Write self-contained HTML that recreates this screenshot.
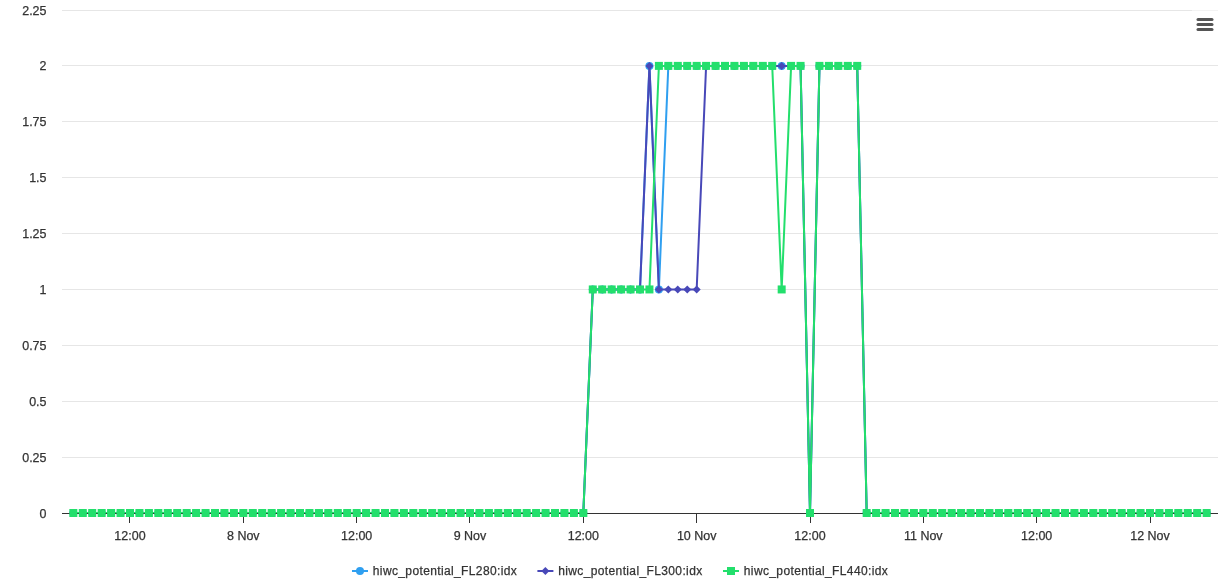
<!DOCTYPE html><html><head><meta charset="utf-8"><style>html,body{margin:0;padding:0;background:#fff;width:1230px;height:586px;overflow:hidden}svg{display:block;will-change:transform}text{font-family:"Liberation Sans",sans-serif;font-size:12px;fill:#333333;stroke:#333333;stroke-width:0.25px}</style></head><body>
<svg width="1230" height="586" viewBox="0 0 1230 586">
<path d="M 62 10.5 H 1218" stroke="#e6e6e6" stroke-width="1" fill="none"/>
<path d="M 62 65.5 H 1218" stroke="#e6e6e6" stroke-width="1" fill="none"/>
<path d="M 62 121.5 H 1218" stroke="#e6e6e6" stroke-width="1" fill="none"/>
<path d="M 62 177.5 H 1218" stroke="#e6e6e6" stroke-width="1" fill="none"/>
<path d="M 62 233.5 H 1218" stroke="#e6e6e6" stroke-width="1" fill="none"/>
<path d="M 62 289.5 H 1218" stroke="#e6e6e6" stroke-width="1" fill="none"/>
<path d="M 62 345.5 H 1218" stroke="#e6e6e6" stroke-width="1" fill="none"/>
<path d="M 62 401.5 H 1218" stroke="#e6e6e6" stroke-width="1" fill="none"/>
<path d="M 62 457.5 H 1218" stroke="#e6e6e6" stroke-width="1" fill="none"/>
<text x="46.5" y="15.0" text-anchor="end" textLength="24.28" lengthAdjust="spacingAndGlyphs">2.25</text>
<text x="46.5" y="70.0" text-anchor="end" textLength="6.94" lengthAdjust="spacingAndGlyphs">2</text>
<text x="46.5" y="126.0" text-anchor="end" textLength="24.28" lengthAdjust="spacingAndGlyphs">1.75</text>
<text x="46.5" y="182.0" text-anchor="end" textLength="17.34" lengthAdjust="spacingAndGlyphs">1.5</text>
<text x="46.5" y="238.0" text-anchor="end" textLength="24.28" lengthAdjust="spacingAndGlyphs">1.25</text>
<text x="46.5" y="294.0" text-anchor="end" textLength="6.94" lengthAdjust="spacingAndGlyphs">1</text>
<text x="46.5" y="350.0" text-anchor="end" textLength="24.28" lengthAdjust="spacingAndGlyphs">0.75</text>
<text x="46.5" y="406.0" text-anchor="end" textLength="17.34" lengthAdjust="spacingAndGlyphs">0.5</text>
<text x="46.5" y="462.0" text-anchor="end" textLength="24.28" lengthAdjust="spacingAndGlyphs">0.25</text>
<text x="46.5" y="518.0" text-anchor="end" textLength="6.94" lengthAdjust="spacingAndGlyphs">0</text>
<path d="M 129.5 513 V 523" stroke="#333333" stroke-width="1"/>
<text x="130.0" y="540" text-anchor="middle" textLength="31.22" lengthAdjust="spacingAndGlyphs">12:00</text>
<path d="M 243.5 513 V 523" stroke="#333333" stroke-width="1"/>
<text x="243.3" y="540" text-anchor="middle" textLength="32.60" lengthAdjust="spacingAndGlyphs">8 Nov</text>
<path d="M 356.5 513 V 523" stroke="#333333" stroke-width="1"/>
<text x="356.7" y="540" text-anchor="middle" textLength="31.22" lengthAdjust="spacingAndGlyphs">12:00</text>
<path d="M 469.5 513 V 523" stroke="#333333" stroke-width="1"/>
<text x="470.0" y="540" text-anchor="middle" textLength="32.60" lengthAdjust="spacingAndGlyphs">9 Nov</text>
<path d="M 583.5 513 V 523" stroke="#333333" stroke-width="1"/>
<text x="583.3" y="540" text-anchor="middle" textLength="31.22" lengthAdjust="spacingAndGlyphs">12:00</text>
<path d="M 696.5 513 V 523" stroke="#333333" stroke-width="1"/>
<text x="696.7" y="540" text-anchor="middle" textLength="39.54" lengthAdjust="spacingAndGlyphs">10 Nov</text>
<path d="M 810.5 513 V 523" stroke="#333333" stroke-width="1"/>
<text x="810.0" y="540" text-anchor="middle" textLength="31.22" lengthAdjust="spacingAndGlyphs">12:00</text>
<path d="M 923.5 513 V 523" stroke="#333333" stroke-width="1"/>
<text x="923.3" y="540" text-anchor="middle" textLength="38.61" lengthAdjust="spacingAndGlyphs">11 Nov</text>
<path d="M 1036.5 513 V 523" stroke="#333333" stroke-width="1"/>
<text x="1036.7" y="540" text-anchor="middle" textLength="31.22" lengthAdjust="spacingAndGlyphs">12:00</text>
<path d="M 1150.5 513 V 523" stroke="#333333" stroke-width="1"/>
<text x="1150.0" y="540" text-anchor="middle" textLength="39.54" lengthAdjust="spacingAndGlyphs">12 Nov</text>
<path d="M 73.33 513.00 L 82.78 513.00 L 92.22 513.00 L 101.67 513.00 L 111.11 513.00 L 120.56 513.00 L 130.00 513.00 L 139.44 513.00 L 148.89 513.00 L 158.33 513.00 L 167.78 513.00 L 177.22 513.00 L 186.67 513.00 L 196.11 513.00 L 205.56 513.00 L 215.00 513.00 L 224.44 513.00 L 233.89 513.00 L 243.33 513.00 L 252.78 513.00 L 262.22 513.00 L 271.67 513.00 L 281.11 513.00 L 290.56 513.00 L 300.00 513.00 L 309.44 513.00 L 318.89 513.00 L 328.33 513.00 L 337.78 513.00 L 347.22 513.00 L 356.67 513.00 L 366.11 513.00 L 375.56 513.00 L 385.00 513.00 L 394.44 513.00 L 403.89 513.00 L 413.33 513.00 L 422.78 513.00 L 432.22 513.00 L 441.67 513.00 L 451.11 513.00 L 460.56 513.00 L 470.00 513.00 L 479.44 513.00 L 488.89 513.00 L 498.33 513.00 L 507.78 513.00 L 517.22 513.00 L 526.67 513.00 L 536.11 513.00 L 545.56 513.00 L 555.00 513.00 L 564.44 513.00 L 573.89 513.00 L 583.33 513.00 L 592.78 289.44 L 602.22 289.44 L 611.67 289.44 L 621.11 289.44 L 630.56 289.44 L 640.00 289.44 L 649.44 65.89 L 658.89 289.44 L 668.33 65.89 L 677.78 65.89 L 687.22 65.89 L 696.67 65.89 L 706.11 65.89 L 715.56 65.89 L 725.00 65.89 L 734.44 65.89 L 743.89 65.89 L 753.33 65.89 L 762.78 65.89 L 772.22 65.89 L 781.67 65.89 L 791.11 65.89 L 800.56 65.89 L 810.00 513.00 L 819.44 65.89 L 828.89 65.89 L 838.33 65.89 L 847.78 65.89 L 857.22 65.89 L 866.67 513.00 L 876.11 513.00 L 885.56 513.00 L 895.00 513.00 L 904.44 513.00 L 913.89 513.00 L 923.33 513.00 L 932.78 513.00 L 942.22 513.00 L 951.67 513.00 L 961.11 513.00 L 970.56 513.00 L 980.00 513.00 L 989.44 513.00 L 998.89 513.00 L 1008.33 513.00 L 1017.78 513.00 L 1027.22 513.00 L 1036.67 513.00 L 1046.11 513.00 L 1055.56 513.00 L 1065.00 513.00 L 1074.44 513.00 L 1083.89 513.00 L 1093.33 513.00 L 1102.78 513.00 L 1112.22 513.00 L 1121.67 513.00 L 1131.11 513.00 L 1140.56 513.00 L 1150.00 513.00 L 1159.44 513.00 L 1168.89 513.00 L 1178.33 513.00 L 1187.78 513.00 L 1197.22 513.00 L 1206.67 513.00" stroke="#2f9ff0" stroke-width="2" fill="none" stroke-linejoin="round" stroke-linecap="round"/>
<circle cx="73.33" cy="513.00" r="4" fill="#2f9ff0"/>
<circle cx="82.78" cy="513.00" r="4" fill="#2f9ff0"/>
<circle cx="92.22" cy="513.00" r="4" fill="#2f9ff0"/>
<circle cx="101.67" cy="513.00" r="4" fill="#2f9ff0"/>
<circle cx="111.11" cy="513.00" r="4" fill="#2f9ff0"/>
<circle cx="120.56" cy="513.00" r="4" fill="#2f9ff0"/>
<circle cx="130.00" cy="513.00" r="4" fill="#2f9ff0"/>
<circle cx="139.44" cy="513.00" r="4" fill="#2f9ff0"/>
<circle cx="148.89" cy="513.00" r="4" fill="#2f9ff0"/>
<circle cx="158.33" cy="513.00" r="4" fill="#2f9ff0"/>
<circle cx="167.78" cy="513.00" r="4" fill="#2f9ff0"/>
<circle cx="177.22" cy="513.00" r="4" fill="#2f9ff0"/>
<circle cx="186.67" cy="513.00" r="4" fill="#2f9ff0"/>
<circle cx="196.11" cy="513.00" r="4" fill="#2f9ff0"/>
<circle cx="205.56" cy="513.00" r="4" fill="#2f9ff0"/>
<circle cx="215.00" cy="513.00" r="4" fill="#2f9ff0"/>
<circle cx="224.44" cy="513.00" r="4" fill="#2f9ff0"/>
<circle cx="233.89" cy="513.00" r="4" fill="#2f9ff0"/>
<circle cx="243.33" cy="513.00" r="4" fill="#2f9ff0"/>
<circle cx="252.78" cy="513.00" r="4" fill="#2f9ff0"/>
<circle cx="262.22" cy="513.00" r="4" fill="#2f9ff0"/>
<circle cx="271.67" cy="513.00" r="4" fill="#2f9ff0"/>
<circle cx="281.11" cy="513.00" r="4" fill="#2f9ff0"/>
<circle cx="290.56" cy="513.00" r="4" fill="#2f9ff0"/>
<circle cx="300.00" cy="513.00" r="4" fill="#2f9ff0"/>
<circle cx="309.44" cy="513.00" r="4" fill="#2f9ff0"/>
<circle cx="318.89" cy="513.00" r="4" fill="#2f9ff0"/>
<circle cx="328.33" cy="513.00" r="4" fill="#2f9ff0"/>
<circle cx="337.78" cy="513.00" r="4" fill="#2f9ff0"/>
<circle cx="347.22" cy="513.00" r="4" fill="#2f9ff0"/>
<circle cx="356.67" cy="513.00" r="4" fill="#2f9ff0"/>
<circle cx="366.11" cy="513.00" r="4" fill="#2f9ff0"/>
<circle cx="375.56" cy="513.00" r="4" fill="#2f9ff0"/>
<circle cx="385.00" cy="513.00" r="4" fill="#2f9ff0"/>
<circle cx="394.44" cy="513.00" r="4" fill="#2f9ff0"/>
<circle cx="403.89" cy="513.00" r="4" fill="#2f9ff0"/>
<circle cx="413.33" cy="513.00" r="4" fill="#2f9ff0"/>
<circle cx="422.78" cy="513.00" r="4" fill="#2f9ff0"/>
<circle cx="432.22" cy="513.00" r="4" fill="#2f9ff0"/>
<circle cx="441.67" cy="513.00" r="4" fill="#2f9ff0"/>
<circle cx="451.11" cy="513.00" r="4" fill="#2f9ff0"/>
<circle cx="460.56" cy="513.00" r="4" fill="#2f9ff0"/>
<circle cx="470.00" cy="513.00" r="4" fill="#2f9ff0"/>
<circle cx="479.44" cy="513.00" r="4" fill="#2f9ff0"/>
<circle cx="488.89" cy="513.00" r="4" fill="#2f9ff0"/>
<circle cx="498.33" cy="513.00" r="4" fill="#2f9ff0"/>
<circle cx="507.78" cy="513.00" r="4" fill="#2f9ff0"/>
<circle cx="517.22" cy="513.00" r="4" fill="#2f9ff0"/>
<circle cx="526.67" cy="513.00" r="4" fill="#2f9ff0"/>
<circle cx="536.11" cy="513.00" r="4" fill="#2f9ff0"/>
<circle cx="545.56" cy="513.00" r="4" fill="#2f9ff0"/>
<circle cx="555.00" cy="513.00" r="4" fill="#2f9ff0"/>
<circle cx="564.44" cy="513.00" r="4" fill="#2f9ff0"/>
<circle cx="573.89" cy="513.00" r="4" fill="#2f9ff0"/>
<circle cx="583.33" cy="513.00" r="4" fill="#2f9ff0"/>
<circle cx="592.78" cy="289.44" r="4" fill="#2f9ff0"/>
<circle cx="602.22" cy="289.44" r="4" fill="#2f9ff0"/>
<circle cx="611.67" cy="289.44" r="4" fill="#2f9ff0"/>
<circle cx="621.11" cy="289.44" r="4" fill="#2f9ff0"/>
<circle cx="630.56" cy="289.44" r="4" fill="#2f9ff0"/>
<circle cx="640.00" cy="289.44" r="4" fill="#2f9ff0"/>
<circle cx="649.44" cy="65.89" r="4" fill="#2f9ff0"/>
<circle cx="658.89" cy="289.44" r="4" fill="#2f9ff0"/>
<circle cx="668.33" cy="65.89" r="4" fill="#2f9ff0"/>
<circle cx="677.78" cy="65.89" r="4" fill="#2f9ff0"/>
<circle cx="687.22" cy="65.89" r="4" fill="#2f9ff0"/>
<circle cx="696.67" cy="65.89" r="4" fill="#2f9ff0"/>
<circle cx="706.11" cy="65.89" r="4" fill="#2f9ff0"/>
<circle cx="715.56" cy="65.89" r="4" fill="#2f9ff0"/>
<circle cx="725.00" cy="65.89" r="4" fill="#2f9ff0"/>
<circle cx="734.44" cy="65.89" r="4" fill="#2f9ff0"/>
<circle cx="743.89" cy="65.89" r="4" fill="#2f9ff0"/>
<circle cx="753.33" cy="65.89" r="4" fill="#2f9ff0"/>
<circle cx="762.78" cy="65.89" r="4" fill="#2f9ff0"/>
<circle cx="772.22" cy="65.89" r="4" fill="#2f9ff0"/>
<circle cx="781.67" cy="65.89" r="4" fill="#2f9ff0"/>
<circle cx="791.11" cy="65.89" r="4" fill="#2f9ff0"/>
<circle cx="800.56" cy="65.89" r="4" fill="#2f9ff0"/>
<circle cx="810.00" cy="513.00" r="4" fill="#2f9ff0"/>
<circle cx="819.44" cy="65.89" r="4" fill="#2f9ff0"/>
<circle cx="828.89" cy="65.89" r="4" fill="#2f9ff0"/>
<circle cx="838.33" cy="65.89" r="4" fill="#2f9ff0"/>
<circle cx="847.78" cy="65.89" r="4" fill="#2f9ff0"/>
<circle cx="857.22" cy="65.89" r="4" fill="#2f9ff0"/>
<circle cx="866.67" cy="513.00" r="4" fill="#2f9ff0"/>
<circle cx="876.11" cy="513.00" r="4" fill="#2f9ff0"/>
<circle cx="885.56" cy="513.00" r="4" fill="#2f9ff0"/>
<circle cx="895.00" cy="513.00" r="4" fill="#2f9ff0"/>
<circle cx="904.44" cy="513.00" r="4" fill="#2f9ff0"/>
<circle cx="913.89" cy="513.00" r="4" fill="#2f9ff0"/>
<circle cx="923.33" cy="513.00" r="4" fill="#2f9ff0"/>
<circle cx="932.78" cy="513.00" r="4" fill="#2f9ff0"/>
<circle cx="942.22" cy="513.00" r="4" fill="#2f9ff0"/>
<circle cx="951.67" cy="513.00" r="4" fill="#2f9ff0"/>
<circle cx="961.11" cy="513.00" r="4" fill="#2f9ff0"/>
<circle cx="970.56" cy="513.00" r="4" fill="#2f9ff0"/>
<circle cx="980.00" cy="513.00" r="4" fill="#2f9ff0"/>
<circle cx="989.44" cy="513.00" r="4" fill="#2f9ff0"/>
<circle cx="998.89" cy="513.00" r="4" fill="#2f9ff0"/>
<circle cx="1008.33" cy="513.00" r="4" fill="#2f9ff0"/>
<circle cx="1017.78" cy="513.00" r="4" fill="#2f9ff0"/>
<circle cx="1027.22" cy="513.00" r="4" fill="#2f9ff0"/>
<circle cx="1036.67" cy="513.00" r="4" fill="#2f9ff0"/>
<circle cx="1046.11" cy="513.00" r="4" fill="#2f9ff0"/>
<circle cx="1055.56" cy="513.00" r="4" fill="#2f9ff0"/>
<circle cx="1065.00" cy="513.00" r="4" fill="#2f9ff0"/>
<circle cx="1074.44" cy="513.00" r="4" fill="#2f9ff0"/>
<circle cx="1083.89" cy="513.00" r="4" fill="#2f9ff0"/>
<circle cx="1093.33" cy="513.00" r="4" fill="#2f9ff0"/>
<circle cx="1102.78" cy="513.00" r="4" fill="#2f9ff0"/>
<circle cx="1112.22" cy="513.00" r="4" fill="#2f9ff0"/>
<circle cx="1121.67" cy="513.00" r="4" fill="#2f9ff0"/>
<circle cx="1131.11" cy="513.00" r="4" fill="#2f9ff0"/>
<circle cx="1140.56" cy="513.00" r="4" fill="#2f9ff0"/>
<circle cx="1150.00" cy="513.00" r="4" fill="#2f9ff0"/>
<circle cx="1159.44" cy="513.00" r="4" fill="#2f9ff0"/>
<circle cx="1168.89" cy="513.00" r="4" fill="#2f9ff0"/>
<circle cx="1178.33" cy="513.00" r="4" fill="#2f9ff0"/>
<circle cx="1187.78" cy="513.00" r="4" fill="#2f9ff0"/>
<circle cx="1197.22" cy="513.00" r="4" fill="#2f9ff0"/>
<circle cx="1206.67" cy="513.00" r="4" fill="#2f9ff0"/>
<path d="M 73.33 513.00 L 82.78 513.00 L 92.22 513.00 L 101.67 513.00 L 111.11 513.00 L 120.56 513.00 L 130.00 513.00 L 139.44 513.00 L 148.89 513.00 L 158.33 513.00 L 167.78 513.00 L 177.22 513.00 L 186.67 513.00 L 196.11 513.00 L 205.56 513.00 L 215.00 513.00 L 224.44 513.00 L 233.89 513.00 L 243.33 513.00 L 252.78 513.00 L 262.22 513.00 L 271.67 513.00 L 281.11 513.00 L 290.56 513.00 L 300.00 513.00 L 309.44 513.00 L 318.89 513.00 L 328.33 513.00 L 337.78 513.00 L 347.22 513.00 L 356.67 513.00 L 366.11 513.00 L 375.56 513.00 L 385.00 513.00 L 394.44 513.00 L 403.89 513.00 L 413.33 513.00 L 422.78 513.00 L 432.22 513.00 L 441.67 513.00 L 451.11 513.00 L 460.56 513.00 L 470.00 513.00 L 479.44 513.00 L 488.89 513.00 L 498.33 513.00 L 507.78 513.00 L 517.22 513.00 L 526.67 513.00 L 536.11 513.00 L 545.56 513.00 L 555.00 513.00 L 564.44 513.00 L 573.89 513.00 L 583.33 513.00 L 592.78 289.44 L 602.22 289.44 L 611.67 289.44 L 621.11 289.44 L 630.56 289.44 L 640.00 289.44 L 649.44 65.89 L 658.89 289.44 L 668.33 289.44 L 677.78 289.44 L 687.22 289.44 L 696.67 289.44 L 706.11 65.89 L 715.56 65.89 L 725.00 65.89 L 734.44 65.89 L 743.89 65.89 L 753.33 65.89 L 762.78 65.89 L 772.22 65.89 L 781.67 65.89 L 791.11 65.89 L 800.56 65.89 L 810.00 513.00 L 819.44 65.89 L 828.89 65.89 L 838.33 65.89 L 847.78 65.89 L 857.22 65.89 L 866.67 513.00 L 876.11 513.00 L 885.56 513.00 L 895.00 513.00 L 904.44 513.00 L 913.89 513.00 L 923.33 513.00 L 932.78 513.00 L 942.22 513.00 L 951.67 513.00 L 961.11 513.00 L 970.56 513.00 L 980.00 513.00 L 989.44 513.00 L 998.89 513.00 L 1008.33 513.00 L 1017.78 513.00 L 1027.22 513.00 L 1036.67 513.00 L 1046.11 513.00 L 1055.56 513.00 L 1065.00 513.00 L 1074.44 513.00 L 1083.89 513.00 L 1093.33 513.00 L 1102.78 513.00 L 1112.22 513.00 L 1121.67 513.00 L 1131.11 513.00 L 1140.56 513.00 L 1150.00 513.00 L 1159.44 513.00 L 1168.89 513.00 L 1178.33 513.00 L 1187.78 513.00 L 1197.22 513.00 L 1206.67 513.00" stroke="#4848b8" stroke-width="2" fill="none" stroke-linejoin="round" stroke-linecap="round"/>
<path d="M 73.33 509.00 L 77.33 513.00 L 73.33 517.00 L 69.33 513.00 Z" fill="#4848b8"/>
<path d="M 82.78 509.00 L 86.78 513.00 L 82.78 517.00 L 78.78 513.00 Z" fill="#4848b8"/>
<path d="M 92.22 509.00 L 96.22 513.00 L 92.22 517.00 L 88.22 513.00 Z" fill="#4848b8"/>
<path d="M 101.67 509.00 L 105.67 513.00 L 101.67 517.00 L 97.67 513.00 Z" fill="#4848b8"/>
<path d="M 111.11 509.00 L 115.11 513.00 L 111.11 517.00 L 107.11 513.00 Z" fill="#4848b8"/>
<path d="M 120.56 509.00 L 124.56 513.00 L 120.56 517.00 L 116.56 513.00 Z" fill="#4848b8"/>
<path d="M 130.00 509.00 L 134.00 513.00 L 130.00 517.00 L 126.00 513.00 Z" fill="#4848b8"/>
<path d="M 139.44 509.00 L 143.44 513.00 L 139.44 517.00 L 135.44 513.00 Z" fill="#4848b8"/>
<path d="M 148.89 509.00 L 152.89 513.00 L 148.89 517.00 L 144.89 513.00 Z" fill="#4848b8"/>
<path d="M 158.33 509.00 L 162.33 513.00 L 158.33 517.00 L 154.33 513.00 Z" fill="#4848b8"/>
<path d="M 167.78 509.00 L 171.78 513.00 L 167.78 517.00 L 163.78 513.00 Z" fill="#4848b8"/>
<path d="M 177.22 509.00 L 181.22 513.00 L 177.22 517.00 L 173.22 513.00 Z" fill="#4848b8"/>
<path d="M 186.67 509.00 L 190.67 513.00 L 186.67 517.00 L 182.67 513.00 Z" fill="#4848b8"/>
<path d="M 196.11 509.00 L 200.11 513.00 L 196.11 517.00 L 192.11 513.00 Z" fill="#4848b8"/>
<path d="M 205.56 509.00 L 209.56 513.00 L 205.56 517.00 L 201.56 513.00 Z" fill="#4848b8"/>
<path d="M 215.00 509.00 L 219.00 513.00 L 215.00 517.00 L 211.00 513.00 Z" fill="#4848b8"/>
<path d="M 224.44 509.00 L 228.44 513.00 L 224.44 517.00 L 220.44 513.00 Z" fill="#4848b8"/>
<path d="M 233.89 509.00 L 237.89 513.00 L 233.89 517.00 L 229.89 513.00 Z" fill="#4848b8"/>
<path d="M 243.33 509.00 L 247.33 513.00 L 243.33 517.00 L 239.33 513.00 Z" fill="#4848b8"/>
<path d="M 252.78 509.00 L 256.78 513.00 L 252.78 517.00 L 248.78 513.00 Z" fill="#4848b8"/>
<path d="M 262.22 509.00 L 266.22 513.00 L 262.22 517.00 L 258.22 513.00 Z" fill="#4848b8"/>
<path d="M 271.67 509.00 L 275.67 513.00 L 271.67 517.00 L 267.67 513.00 Z" fill="#4848b8"/>
<path d="M 281.11 509.00 L 285.11 513.00 L 281.11 517.00 L 277.11 513.00 Z" fill="#4848b8"/>
<path d="M 290.56 509.00 L 294.56 513.00 L 290.56 517.00 L 286.56 513.00 Z" fill="#4848b8"/>
<path d="M 300.00 509.00 L 304.00 513.00 L 300.00 517.00 L 296.00 513.00 Z" fill="#4848b8"/>
<path d="M 309.44 509.00 L 313.44 513.00 L 309.44 517.00 L 305.44 513.00 Z" fill="#4848b8"/>
<path d="M 318.89 509.00 L 322.89 513.00 L 318.89 517.00 L 314.89 513.00 Z" fill="#4848b8"/>
<path d="M 328.33 509.00 L 332.33 513.00 L 328.33 517.00 L 324.33 513.00 Z" fill="#4848b8"/>
<path d="M 337.78 509.00 L 341.78 513.00 L 337.78 517.00 L 333.78 513.00 Z" fill="#4848b8"/>
<path d="M 347.22 509.00 L 351.22 513.00 L 347.22 517.00 L 343.22 513.00 Z" fill="#4848b8"/>
<path d="M 356.67 509.00 L 360.67 513.00 L 356.67 517.00 L 352.67 513.00 Z" fill="#4848b8"/>
<path d="M 366.11 509.00 L 370.11 513.00 L 366.11 517.00 L 362.11 513.00 Z" fill="#4848b8"/>
<path d="M 375.56 509.00 L 379.56 513.00 L 375.56 517.00 L 371.56 513.00 Z" fill="#4848b8"/>
<path d="M 385.00 509.00 L 389.00 513.00 L 385.00 517.00 L 381.00 513.00 Z" fill="#4848b8"/>
<path d="M 394.44 509.00 L 398.44 513.00 L 394.44 517.00 L 390.44 513.00 Z" fill="#4848b8"/>
<path d="M 403.89 509.00 L 407.89 513.00 L 403.89 517.00 L 399.89 513.00 Z" fill="#4848b8"/>
<path d="M 413.33 509.00 L 417.33 513.00 L 413.33 517.00 L 409.33 513.00 Z" fill="#4848b8"/>
<path d="M 422.78 509.00 L 426.78 513.00 L 422.78 517.00 L 418.78 513.00 Z" fill="#4848b8"/>
<path d="M 432.22 509.00 L 436.22 513.00 L 432.22 517.00 L 428.22 513.00 Z" fill="#4848b8"/>
<path d="M 441.67 509.00 L 445.67 513.00 L 441.67 517.00 L 437.67 513.00 Z" fill="#4848b8"/>
<path d="M 451.11 509.00 L 455.11 513.00 L 451.11 517.00 L 447.11 513.00 Z" fill="#4848b8"/>
<path d="M 460.56 509.00 L 464.56 513.00 L 460.56 517.00 L 456.56 513.00 Z" fill="#4848b8"/>
<path d="M 470.00 509.00 L 474.00 513.00 L 470.00 517.00 L 466.00 513.00 Z" fill="#4848b8"/>
<path d="M 479.44 509.00 L 483.44 513.00 L 479.44 517.00 L 475.44 513.00 Z" fill="#4848b8"/>
<path d="M 488.89 509.00 L 492.89 513.00 L 488.89 517.00 L 484.89 513.00 Z" fill="#4848b8"/>
<path d="M 498.33 509.00 L 502.33 513.00 L 498.33 517.00 L 494.33 513.00 Z" fill="#4848b8"/>
<path d="M 507.78 509.00 L 511.78 513.00 L 507.78 517.00 L 503.78 513.00 Z" fill="#4848b8"/>
<path d="M 517.22 509.00 L 521.22 513.00 L 517.22 517.00 L 513.22 513.00 Z" fill="#4848b8"/>
<path d="M 526.67 509.00 L 530.67 513.00 L 526.67 517.00 L 522.67 513.00 Z" fill="#4848b8"/>
<path d="M 536.11 509.00 L 540.11 513.00 L 536.11 517.00 L 532.11 513.00 Z" fill="#4848b8"/>
<path d="M 545.56 509.00 L 549.56 513.00 L 545.56 517.00 L 541.56 513.00 Z" fill="#4848b8"/>
<path d="M 555.00 509.00 L 559.00 513.00 L 555.00 517.00 L 551.00 513.00 Z" fill="#4848b8"/>
<path d="M 564.44 509.00 L 568.44 513.00 L 564.44 517.00 L 560.44 513.00 Z" fill="#4848b8"/>
<path d="M 573.89 509.00 L 577.89 513.00 L 573.89 517.00 L 569.89 513.00 Z" fill="#4848b8"/>
<path d="M 583.33 509.00 L 587.33 513.00 L 583.33 517.00 L 579.33 513.00 Z" fill="#4848b8"/>
<path d="M 592.78 285.44 L 596.78 289.44 L 592.78 293.44 L 588.78 289.44 Z" fill="#4848b8"/>
<path d="M 602.22 285.44 L 606.22 289.44 L 602.22 293.44 L 598.22 289.44 Z" fill="#4848b8"/>
<path d="M 611.67 285.44 L 615.67 289.44 L 611.67 293.44 L 607.67 289.44 Z" fill="#4848b8"/>
<path d="M 621.11 285.44 L 625.11 289.44 L 621.11 293.44 L 617.11 289.44 Z" fill="#4848b8"/>
<path d="M 630.56 285.44 L 634.56 289.44 L 630.56 293.44 L 626.56 289.44 Z" fill="#4848b8"/>
<path d="M 640.00 285.44 L 644.00 289.44 L 640.00 293.44 L 636.00 289.44 Z" fill="#4848b8"/>
<path d="M 649.44 61.89 L 653.44 65.89 L 649.44 69.89 L 645.44 65.89 Z" fill="#4848b8"/>
<path d="M 658.89 285.44 L 662.89 289.44 L 658.89 293.44 L 654.89 289.44 Z" fill="#4848b8"/>
<path d="M 668.33 285.44 L 672.33 289.44 L 668.33 293.44 L 664.33 289.44 Z" fill="#4848b8"/>
<path d="M 677.78 285.44 L 681.78 289.44 L 677.78 293.44 L 673.78 289.44 Z" fill="#4848b8"/>
<path d="M 687.22 285.44 L 691.22 289.44 L 687.22 293.44 L 683.22 289.44 Z" fill="#4848b8"/>
<path d="M 696.67 285.44 L 700.67 289.44 L 696.67 293.44 L 692.67 289.44 Z" fill="#4848b8"/>
<path d="M 706.11 61.89 L 710.11 65.89 L 706.11 69.89 L 702.11 65.89 Z" fill="#4848b8"/>
<path d="M 715.56 61.89 L 719.56 65.89 L 715.56 69.89 L 711.56 65.89 Z" fill="#4848b8"/>
<path d="M 725.00 61.89 L 729.00 65.89 L 725.00 69.89 L 721.00 65.89 Z" fill="#4848b8"/>
<path d="M 734.44 61.89 L 738.44 65.89 L 734.44 69.89 L 730.44 65.89 Z" fill="#4848b8"/>
<path d="M 743.89 61.89 L 747.89 65.89 L 743.89 69.89 L 739.89 65.89 Z" fill="#4848b8"/>
<path d="M 753.33 61.89 L 757.33 65.89 L 753.33 69.89 L 749.33 65.89 Z" fill="#4848b8"/>
<path d="M 762.78 61.89 L 766.78 65.89 L 762.78 69.89 L 758.78 65.89 Z" fill="#4848b8"/>
<path d="M 772.22 61.89 L 776.22 65.89 L 772.22 69.89 L 768.22 65.89 Z" fill="#4848b8"/>
<path d="M 781.67 61.89 L 785.67 65.89 L 781.67 69.89 L 777.67 65.89 Z" fill="#4848b8"/>
<path d="M 791.11 61.89 L 795.11 65.89 L 791.11 69.89 L 787.11 65.89 Z" fill="#4848b8"/>
<path d="M 800.56 61.89 L 804.56 65.89 L 800.56 69.89 L 796.56 65.89 Z" fill="#4848b8"/>
<path d="M 810.00 509.00 L 814.00 513.00 L 810.00 517.00 L 806.00 513.00 Z" fill="#4848b8"/>
<path d="M 819.44 61.89 L 823.44 65.89 L 819.44 69.89 L 815.44 65.89 Z" fill="#4848b8"/>
<path d="M 828.89 61.89 L 832.89 65.89 L 828.89 69.89 L 824.89 65.89 Z" fill="#4848b8"/>
<path d="M 838.33 61.89 L 842.33 65.89 L 838.33 69.89 L 834.33 65.89 Z" fill="#4848b8"/>
<path d="M 847.78 61.89 L 851.78 65.89 L 847.78 69.89 L 843.78 65.89 Z" fill="#4848b8"/>
<path d="M 857.22 61.89 L 861.22 65.89 L 857.22 69.89 L 853.22 65.89 Z" fill="#4848b8"/>
<path d="M 866.67 509.00 L 870.67 513.00 L 866.67 517.00 L 862.67 513.00 Z" fill="#4848b8"/>
<path d="M 876.11 509.00 L 880.11 513.00 L 876.11 517.00 L 872.11 513.00 Z" fill="#4848b8"/>
<path d="M 885.56 509.00 L 889.56 513.00 L 885.56 517.00 L 881.56 513.00 Z" fill="#4848b8"/>
<path d="M 895.00 509.00 L 899.00 513.00 L 895.00 517.00 L 891.00 513.00 Z" fill="#4848b8"/>
<path d="M 904.44 509.00 L 908.44 513.00 L 904.44 517.00 L 900.44 513.00 Z" fill="#4848b8"/>
<path d="M 913.89 509.00 L 917.89 513.00 L 913.89 517.00 L 909.89 513.00 Z" fill="#4848b8"/>
<path d="M 923.33 509.00 L 927.33 513.00 L 923.33 517.00 L 919.33 513.00 Z" fill="#4848b8"/>
<path d="M 932.78 509.00 L 936.78 513.00 L 932.78 517.00 L 928.78 513.00 Z" fill="#4848b8"/>
<path d="M 942.22 509.00 L 946.22 513.00 L 942.22 517.00 L 938.22 513.00 Z" fill="#4848b8"/>
<path d="M 951.67 509.00 L 955.67 513.00 L 951.67 517.00 L 947.67 513.00 Z" fill="#4848b8"/>
<path d="M 961.11 509.00 L 965.11 513.00 L 961.11 517.00 L 957.11 513.00 Z" fill="#4848b8"/>
<path d="M 970.56 509.00 L 974.56 513.00 L 970.56 517.00 L 966.56 513.00 Z" fill="#4848b8"/>
<path d="M 980.00 509.00 L 984.00 513.00 L 980.00 517.00 L 976.00 513.00 Z" fill="#4848b8"/>
<path d="M 989.44 509.00 L 993.44 513.00 L 989.44 517.00 L 985.44 513.00 Z" fill="#4848b8"/>
<path d="M 998.89 509.00 L 1002.89 513.00 L 998.89 517.00 L 994.89 513.00 Z" fill="#4848b8"/>
<path d="M 1008.33 509.00 L 1012.33 513.00 L 1008.33 517.00 L 1004.33 513.00 Z" fill="#4848b8"/>
<path d="M 1017.78 509.00 L 1021.78 513.00 L 1017.78 517.00 L 1013.78 513.00 Z" fill="#4848b8"/>
<path d="M 1027.22 509.00 L 1031.22 513.00 L 1027.22 517.00 L 1023.22 513.00 Z" fill="#4848b8"/>
<path d="M 1036.67 509.00 L 1040.67 513.00 L 1036.67 517.00 L 1032.67 513.00 Z" fill="#4848b8"/>
<path d="M 1046.11 509.00 L 1050.11 513.00 L 1046.11 517.00 L 1042.11 513.00 Z" fill="#4848b8"/>
<path d="M 1055.56 509.00 L 1059.56 513.00 L 1055.56 517.00 L 1051.56 513.00 Z" fill="#4848b8"/>
<path d="M 1065.00 509.00 L 1069.00 513.00 L 1065.00 517.00 L 1061.00 513.00 Z" fill="#4848b8"/>
<path d="M 1074.44 509.00 L 1078.44 513.00 L 1074.44 517.00 L 1070.44 513.00 Z" fill="#4848b8"/>
<path d="M 1083.89 509.00 L 1087.89 513.00 L 1083.89 517.00 L 1079.89 513.00 Z" fill="#4848b8"/>
<path d="M 1093.33 509.00 L 1097.33 513.00 L 1093.33 517.00 L 1089.33 513.00 Z" fill="#4848b8"/>
<path d="M 1102.78 509.00 L 1106.78 513.00 L 1102.78 517.00 L 1098.78 513.00 Z" fill="#4848b8"/>
<path d="M 1112.22 509.00 L 1116.22 513.00 L 1112.22 517.00 L 1108.22 513.00 Z" fill="#4848b8"/>
<path d="M 1121.67 509.00 L 1125.67 513.00 L 1121.67 517.00 L 1117.67 513.00 Z" fill="#4848b8"/>
<path d="M 1131.11 509.00 L 1135.11 513.00 L 1131.11 517.00 L 1127.11 513.00 Z" fill="#4848b8"/>
<path d="M 1140.56 509.00 L 1144.56 513.00 L 1140.56 517.00 L 1136.56 513.00 Z" fill="#4848b8"/>
<path d="M 1150.00 509.00 L 1154.00 513.00 L 1150.00 517.00 L 1146.00 513.00 Z" fill="#4848b8"/>
<path d="M 1159.44 509.00 L 1163.44 513.00 L 1159.44 517.00 L 1155.44 513.00 Z" fill="#4848b8"/>
<path d="M 1168.89 509.00 L 1172.89 513.00 L 1168.89 517.00 L 1164.89 513.00 Z" fill="#4848b8"/>
<path d="M 1178.33 509.00 L 1182.33 513.00 L 1178.33 517.00 L 1174.33 513.00 Z" fill="#4848b8"/>
<path d="M 1187.78 509.00 L 1191.78 513.00 L 1187.78 517.00 L 1183.78 513.00 Z" fill="#4848b8"/>
<path d="M 1197.22 509.00 L 1201.22 513.00 L 1197.22 517.00 L 1193.22 513.00 Z" fill="#4848b8"/>
<path d="M 1206.67 509.00 L 1210.67 513.00 L 1206.67 517.00 L 1202.67 513.00 Z" fill="#4848b8"/>
<path d="M 73.33 513.00 L 82.78 513.00 L 92.22 513.00 L 101.67 513.00 L 111.11 513.00 L 120.56 513.00 L 130.00 513.00 L 139.44 513.00 L 148.89 513.00 L 158.33 513.00 L 167.78 513.00 L 177.22 513.00 L 186.67 513.00 L 196.11 513.00 L 205.56 513.00 L 215.00 513.00 L 224.44 513.00 L 233.89 513.00 L 243.33 513.00 L 252.78 513.00 L 262.22 513.00 L 271.67 513.00 L 281.11 513.00 L 290.56 513.00 L 300.00 513.00 L 309.44 513.00 L 318.89 513.00 L 328.33 513.00 L 337.78 513.00 L 347.22 513.00 L 356.67 513.00 L 366.11 513.00 L 375.56 513.00 L 385.00 513.00 L 394.44 513.00 L 403.89 513.00 L 413.33 513.00 L 422.78 513.00 L 432.22 513.00 L 441.67 513.00 L 451.11 513.00 L 460.56 513.00 L 470.00 513.00 L 479.44 513.00 L 488.89 513.00 L 498.33 513.00 L 507.78 513.00 L 517.22 513.00 L 526.67 513.00 L 536.11 513.00 L 545.56 513.00 L 555.00 513.00 L 564.44 513.00 L 573.89 513.00 L 583.33 513.00 L 592.78 289.44 L 602.22 289.44 L 611.67 289.44 L 621.11 289.44 L 630.56 289.44 L 640.00 289.44 L 649.44 289.44 L 658.89 65.89 L 668.33 65.89 L 677.78 65.89 L 687.22 65.89 L 696.67 65.89 L 706.11 65.89 L 715.56 65.89 L 725.00 65.89 L 734.44 65.89 L 743.89 65.89 L 753.33 65.89 L 762.78 65.89 L 772.22 65.89 L 781.67 289.44 L 791.11 65.89 L 800.56 65.89 L 810.00 513.00 L 819.44 65.89 L 828.89 65.89 L 838.33 65.89 L 847.78 65.89 L 857.22 65.89 L 866.67 513.00 L 876.11 513.00 L 885.56 513.00 L 895.00 513.00 L 904.44 513.00 L 913.89 513.00 L 923.33 513.00 L 932.78 513.00 L 942.22 513.00 L 951.67 513.00 L 961.11 513.00 L 970.56 513.00 L 980.00 513.00 L 989.44 513.00 L 998.89 513.00 L 1008.33 513.00 L 1017.78 513.00 L 1027.22 513.00 L 1036.67 513.00 L 1046.11 513.00 L 1055.56 513.00 L 1065.00 513.00 L 1074.44 513.00 L 1083.89 513.00 L 1093.33 513.00 L 1102.78 513.00 L 1112.22 513.00 L 1121.67 513.00 L 1131.11 513.00 L 1140.56 513.00 L 1150.00 513.00 L 1159.44 513.00 L 1168.89 513.00 L 1178.33 513.00 L 1187.78 513.00 L 1197.22 513.00 L 1206.67 513.00" stroke="#23df6c" stroke-width="2" fill="none" stroke-linejoin="round" stroke-linecap="round"/>
<path d="M 62 513.5 H 1218" stroke="#333333" stroke-width="1"/>
<rect x="69.33" y="509.00" width="8" height="8" fill="#23df6c"/>
<rect x="78.78" y="509.00" width="8" height="8" fill="#23df6c"/>
<rect x="88.22" y="509.00" width="8" height="8" fill="#23df6c"/>
<rect x="97.67" y="509.00" width="8" height="8" fill="#23df6c"/>
<rect x="107.11" y="509.00" width="8" height="8" fill="#23df6c"/>
<rect x="116.56" y="509.00" width="8" height="8" fill="#23df6c"/>
<rect x="126.00" y="509.00" width="8" height="8" fill="#23df6c"/>
<rect x="135.44" y="509.00" width="8" height="8" fill="#23df6c"/>
<rect x="144.89" y="509.00" width="8" height="8" fill="#23df6c"/>
<rect x="154.33" y="509.00" width="8" height="8" fill="#23df6c"/>
<rect x="163.78" y="509.00" width="8" height="8" fill="#23df6c"/>
<rect x="173.22" y="509.00" width="8" height="8" fill="#23df6c"/>
<rect x="182.67" y="509.00" width="8" height="8" fill="#23df6c"/>
<rect x="192.11" y="509.00" width="8" height="8" fill="#23df6c"/>
<rect x="201.56" y="509.00" width="8" height="8" fill="#23df6c"/>
<rect x="211.00" y="509.00" width="8" height="8" fill="#23df6c"/>
<rect x="220.44" y="509.00" width="8" height="8" fill="#23df6c"/>
<rect x="229.89" y="509.00" width="8" height="8" fill="#23df6c"/>
<rect x="239.33" y="509.00" width="8" height="8" fill="#23df6c"/>
<rect x="248.78" y="509.00" width="8" height="8" fill="#23df6c"/>
<rect x="258.22" y="509.00" width="8" height="8" fill="#23df6c"/>
<rect x="267.67" y="509.00" width="8" height="8" fill="#23df6c"/>
<rect x="277.11" y="509.00" width="8" height="8" fill="#23df6c"/>
<rect x="286.56" y="509.00" width="8" height="8" fill="#23df6c"/>
<rect x="296.00" y="509.00" width="8" height="8" fill="#23df6c"/>
<rect x="305.44" y="509.00" width="8" height="8" fill="#23df6c"/>
<rect x="314.89" y="509.00" width="8" height="8" fill="#23df6c"/>
<rect x="324.33" y="509.00" width="8" height="8" fill="#23df6c"/>
<rect x="333.78" y="509.00" width="8" height="8" fill="#23df6c"/>
<rect x="343.22" y="509.00" width="8" height="8" fill="#23df6c"/>
<rect x="352.67" y="509.00" width="8" height="8" fill="#23df6c"/>
<rect x="362.11" y="509.00" width="8" height="8" fill="#23df6c"/>
<rect x="371.56" y="509.00" width="8" height="8" fill="#23df6c"/>
<rect x="381.00" y="509.00" width="8" height="8" fill="#23df6c"/>
<rect x="390.44" y="509.00" width="8" height="8" fill="#23df6c"/>
<rect x="399.89" y="509.00" width="8" height="8" fill="#23df6c"/>
<rect x="409.33" y="509.00" width="8" height="8" fill="#23df6c"/>
<rect x="418.78" y="509.00" width="8" height="8" fill="#23df6c"/>
<rect x="428.22" y="509.00" width="8" height="8" fill="#23df6c"/>
<rect x="437.67" y="509.00" width="8" height="8" fill="#23df6c"/>
<rect x="447.11" y="509.00" width="8" height="8" fill="#23df6c"/>
<rect x="456.56" y="509.00" width="8" height="8" fill="#23df6c"/>
<rect x="466.00" y="509.00" width="8" height="8" fill="#23df6c"/>
<rect x="475.44" y="509.00" width="8" height="8" fill="#23df6c"/>
<rect x="484.89" y="509.00" width="8" height="8" fill="#23df6c"/>
<rect x="494.33" y="509.00" width="8" height="8" fill="#23df6c"/>
<rect x="503.78" y="509.00" width="8" height="8" fill="#23df6c"/>
<rect x="513.22" y="509.00" width="8" height="8" fill="#23df6c"/>
<rect x="522.67" y="509.00" width="8" height="8" fill="#23df6c"/>
<rect x="532.11" y="509.00" width="8" height="8" fill="#23df6c"/>
<rect x="541.56" y="509.00" width="8" height="8" fill="#23df6c"/>
<rect x="551.00" y="509.00" width="8" height="8" fill="#23df6c"/>
<rect x="560.44" y="509.00" width="8" height="8" fill="#23df6c"/>
<rect x="569.89" y="509.00" width="8" height="8" fill="#23df6c"/>
<rect x="579.33" y="509.00" width="8" height="8" fill="#23df6c"/>
<rect x="588.78" y="285.44" width="8" height="8" fill="#23df6c"/>
<rect x="598.22" y="285.44" width="8" height="8" fill="#23df6c"/>
<rect x="607.67" y="285.44" width="8" height="8" fill="#23df6c"/>
<rect x="617.11" y="285.44" width="8" height="8" fill="#23df6c"/>
<rect x="626.56" y="285.44" width="8" height="8" fill="#23df6c"/>
<rect x="636.00" y="285.44" width="8" height="8" fill="#23df6c"/>
<rect x="645.44" y="285.44" width="8" height="8" fill="#23df6c"/>
<rect x="654.89" y="61.89" width="8" height="8" fill="#23df6c"/>
<rect x="664.33" y="61.89" width="8" height="8" fill="#23df6c"/>
<rect x="673.78" y="61.89" width="8" height="8" fill="#23df6c"/>
<rect x="683.22" y="61.89" width="8" height="8" fill="#23df6c"/>
<rect x="692.67" y="61.89" width="8" height="8" fill="#23df6c"/>
<rect x="702.11" y="61.89" width="8" height="8" fill="#23df6c"/>
<rect x="711.56" y="61.89" width="8" height="8" fill="#23df6c"/>
<rect x="721.00" y="61.89" width="8" height="8" fill="#23df6c"/>
<rect x="730.44" y="61.89" width="8" height="8" fill="#23df6c"/>
<rect x="739.89" y="61.89" width="8" height="8" fill="#23df6c"/>
<rect x="749.33" y="61.89" width="8" height="8" fill="#23df6c"/>
<rect x="758.78" y="61.89" width="8" height="8" fill="#23df6c"/>
<rect x="768.22" y="61.89" width="8" height="8" fill="#23df6c"/>
<rect x="777.67" y="285.44" width="8" height="8" fill="#23df6c"/>
<rect x="787.11" y="61.89" width="8" height="8" fill="#23df6c"/>
<rect x="796.56" y="61.89" width="8" height="8" fill="#23df6c"/>
<rect x="806.00" y="509.00" width="8" height="8" fill="#23df6c"/>
<rect x="815.44" y="61.89" width="8" height="8" fill="#23df6c"/>
<rect x="824.89" y="61.89" width="8" height="8" fill="#23df6c"/>
<rect x="834.33" y="61.89" width="8" height="8" fill="#23df6c"/>
<rect x="843.78" y="61.89" width="8" height="8" fill="#23df6c"/>
<rect x="853.22" y="61.89" width="8" height="8" fill="#23df6c"/>
<rect x="862.67" y="509.00" width="8" height="8" fill="#23df6c"/>
<rect x="872.11" y="509.00" width="8" height="8" fill="#23df6c"/>
<rect x="881.56" y="509.00" width="8" height="8" fill="#23df6c"/>
<rect x="891.00" y="509.00" width="8" height="8" fill="#23df6c"/>
<rect x="900.44" y="509.00" width="8" height="8" fill="#23df6c"/>
<rect x="909.89" y="509.00" width="8" height="8" fill="#23df6c"/>
<rect x="919.33" y="509.00" width="8" height="8" fill="#23df6c"/>
<rect x="928.78" y="509.00" width="8" height="8" fill="#23df6c"/>
<rect x="938.22" y="509.00" width="8" height="8" fill="#23df6c"/>
<rect x="947.67" y="509.00" width="8" height="8" fill="#23df6c"/>
<rect x="957.11" y="509.00" width="8" height="8" fill="#23df6c"/>
<rect x="966.56" y="509.00" width="8" height="8" fill="#23df6c"/>
<rect x="976.00" y="509.00" width="8" height="8" fill="#23df6c"/>
<rect x="985.44" y="509.00" width="8" height="8" fill="#23df6c"/>
<rect x="994.89" y="509.00" width="8" height="8" fill="#23df6c"/>
<rect x="1004.33" y="509.00" width="8" height="8" fill="#23df6c"/>
<rect x="1013.78" y="509.00" width="8" height="8" fill="#23df6c"/>
<rect x="1023.22" y="509.00" width="8" height="8" fill="#23df6c"/>
<rect x="1032.67" y="509.00" width="8" height="8" fill="#23df6c"/>
<rect x="1042.11" y="509.00" width="8" height="8" fill="#23df6c"/>
<rect x="1051.56" y="509.00" width="8" height="8" fill="#23df6c"/>
<rect x="1061.00" y="509.00" width="8" height="8" fill="#23df6c"/>
<rect x="1070.44" y="509.00" width="8" height="8" fill="#23df6c"/>
<rect x="1079.89" y="509.00" width="8" height="8" fill="#23df6c"/>
<rect x="1089.33" y="509.00" width="8" height="8" fill="#23df6c"/>
<rect x="1098.78" y="509.00" width="8" height="8" fill="#23df6c"/>
<rect x="1108.22" y="509.00" width="8" height="8" fill="#23df6c"/>
<rect x="1117.67" y="509.00" width="8" height="8" fill="#23df6c"/>
<rect x="1127.11" y="509.00" width="8" height="8" fill="#23df6c"/>
<rect x="1136.56" y="509.00" width="8" height="8" fill="#23df6c"/>
<rect x="1146.00" y="509.00" width="8" height="8" fill="#23df6c"/>
<rect x="1155.44" y="509.00" width="8" height="8" fill="#23df6c"/>
<rect x="1164.89" y="509.00" width="8" height="8" fill="#23df6c"/>
<rect x="1174.33" y="509.00" width="8" height="8" fill="#23df6c"/>
<rect x="1183.78" y="509.00" width="8" height="8" fill="#23df6c"/>
<rect x="1193.22" y="509.00" width="8" height="8" fill="#23df6c"/>
<rect x="1202.67" y="509.00" width="8" height="8" fill="#23df6c"/>
<rect x="1192" y="10" width="26" height="1" fill="#ffffff" fill-opacity="0.5"/>
<path d="M 1198 19.5 H 1212" stroke="#555555" stroke-width="3" stroke-linecap="round"/>
<path d="M 1198 24.5 H 1212" stroke="#555555" stroke-width="3" stroke-linecap="round"/>
<path d="M 1198 29.5 H 1212" stroke="#555555" stroke-width="3" stroke-linecap="round"/>
<path d="M 352.0 571.0 H 368.0" stroke="#2f9ff0" stroke-width="2"/>
<circle cx="360.0" cy="571.0" r="4" fill="#2f9ff0"/>
<text x="372.8" y="574.5" textLength="144" lengthAdjust="spacing">hiwc_potential_FL280:idx</text>
<path d="M 537.4 571.0 H 553.4" stroke="#4848b8" stroke-width="2"/>
<path d="M 545.4 567.0 L 549.4 571.0 L 545.4 575.0 L 541.4 571.0 Z" fill="#4848b8"/>
<text x="558.2" y="574.5" textLength="144" lengthAdjust="spacing">hiwc_potential_FL300:idx</text>
<path d="M 723.0 571.0 H 739.0" stroke="#23df6c" stroke-width="2"/>
<rect x="727.0" y="567.0" width="8" height="8" fill="#23df6c"/>
<text x="743.8" y="574.5" textLength="144" lengthAdjust="spacing">hiwc_potential_FL440:idx</text>
</svg></body></html>
